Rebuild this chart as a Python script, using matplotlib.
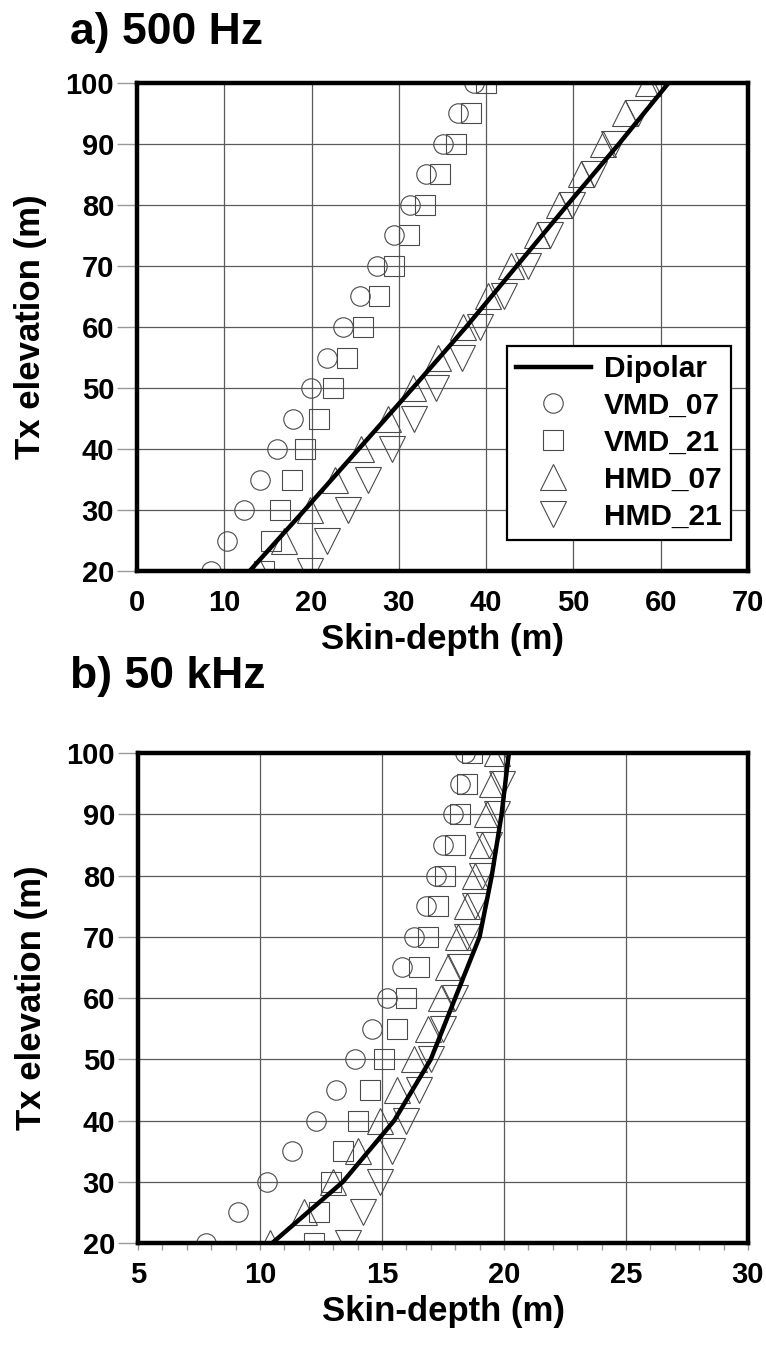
"""
Skin-depth versus transmitter elevation, two frequencies (500 Hz, 50 kHz).

Dipolar solution as a thick black line, the four finite-source cases as
open grey markers.
"""

import matplotlib
matplotlib.use("Agg")
import matplotlib.pyplot as plt
from matplotlib.ticker import MultipleLocator

# ---------------------------------------------------------------------------
# Data
# ---------------------------------------------------------------------------
elevation = [20, 25, 30, 35, 40, 45, 50, 55, 60, 65, 70, 75, 80, 85, 90, 95, 100]
dipolar_elevation = [20, 30, 40, 50, 60, 70, 80, 90, 100]

# a) 500 Hz
dipolar_500 = [12.9, 19.2, 25.4, 31.6, 37.7, 43.5, 49.3, 55.2, 60.9]
vmd07_500 = [8.5, 10.3, 12.2, 14.1, 16.0, 17.9, 19.9, 21.8, 23.6, 25.5, 27.5,
             29.4, 31.3, 33.1, 35.0, 36.8, 38.6]
vmd21_500 = [14.6, 15.3, 16.4, 17.8, 19.3, 20.9, 22.5, 24.1, 25.9, 27.7, 29.4,
             31.2, 33.0, 34.7, 36.5, 38.3, 40.0]
hmd07_500 = [14.0, 16.8, 19.8, 22.7, 25.7, 28.7, 31.6, 34.5, 37.4, 40.2, 42.9,
             45.8, 48.3, 50.9, 53.4, 55.9, 58.6]
hmd21_500 = [19.8, 21.8, 24.2, 26.5, 29.2, 31.7, 34.3, 37.2, 39.3, 42.0, 44.8,
             47.3, 49.8, 52.3, 54.6, 57.4, 59.7]

# b) 50 kHz
dipolar_50k = [10.5, 13.4, 15.5, 17.0, 18.0, 19.0, 19.5, 19.9, 20.2]
vmd07_50k = [7.8, 9.1, 10.3, 11.3, 12.3, 13.1, 13.9, 14.6, 15.2, 15.8, 16.3,
             16.8, 17.2, 17.5, 17.9, 18.2, 18.4]
vmd21_50k = [12.2, 12.4, 12.9, 13.4, 14.0, 14.5, 15.1, 15.6, 16.0, 16.5, 16.9,
             17.3, 17.6, 18.0, 18.2, 18.5, 18.7]
hmd07_50k = [10.4, 11.8, 13.0, 14.0, 14.9, 15.6, 16.3, 16.9, 17.4, 17.7, 18.1,
             18.5, 18.8, 19.1, 19.3, 19.5, 19.7]
hmd21_50k = [13.6, 14.2, 14.9, 15.4, 16.0, 16.5, 17.0, 17.5, 18.0, 18.2, 18.5,
             18.8, 19.1, 19.4, 19.7, 19.9, 20.0]

series_labels = ["Dipolar", "VMD_07", "VMD_21", "HMD_07", "HMD_21"]
panel_titles = ["a) 500 Hz", "b) 50 kHz"]

# ---------------------------------------------------------------------------
# Style
# ---------------------------------------------------------------------------
FONT = ["Liberation Sans", "DejaVu Sans"]
plt.rcParams["font.family"] = FONT
plt.rcParams["font.weight"] = "bold"

MARKER_EDGE = "#4a4a4a"
GRID_COLOR = "#5a5a5a"
TICK_COLOR = "#9a9a9a"
TICK_FS = 21
LABEL_FS = 25
TITLE_FS = 32

# marker shape, size (pt) per finite-source series
_MARKERS = [("o", 14.0), ("s", 14.0), ("^", 18.5), ("v", 18.5)]


def draw_panel(ax, dipolar, series, xlim, xstep, minor_x=False):
    """Thick dipolar line over open grey markers, boxed axes with grid."""
    for (marker, size), values, label in zip(_MARKERS, series, series_labels[1:]):
        ax.plot(values, elevation, linestyle="none", marker=marker,
                markersize=size, markerfacecolor="none",
                markeredgecolor=MARKER_EDGE, markeredgewidth=0.8,
                label=label, zorder=3)
    ax.plot(dipolar, dipolar_elevation, color="black", linewidth=3.2,
            label=series_labels[0], zorder=4)

    ax.set_xlim(*xlim)
    ax.set_ylim(20, 100)
    ax.xaxis.set_major_locator(MultipleLocator(xstep))
    ax.yaxis.set_major_locator(MultipleLocator(10))
    ax.grid(True, color=GRID_COLOR, linewidth=0.9, zorder=1)
    ax.set_axisbelow(True)

    for spine in ax.spines.values():
        spine.set_linewidth(3.2)
        spine.set_color("black")
        spine.set_zorder(6)

    ax.tick_params(axis="y", direction="out", length=14.5, width=1.0,
                   color=TICK_COLOR, pad=2, labelsize=TICK_FS)
    if minor_x:
        ax.xaxis.set_minor_locator(MultipleLocator(1))
        ax.tick_params(axis="x", which="both", direction="out", length=5,
                       width=1.0, color=TICK_COLOR, pad=8, labelsize=TICK_FS)
    else:
        ax.tick_params(axis="x", direction="out", length=0, pad=13,
                       labelsize=TICK_FS)
    for lbl in ax.get_xticklabels() + ax.get_yticklabels():
        lbl.set_fontweight("bold")

    ax.set_xlabel("Skin-depth (m)", fontsize=LABEL_FS, fontweight="bold",
                  labelpad=4)
    ax.set_ylabel("Tx elevation (m)", fontsize=LABEL_FS, fontweight="bold",
                  labelpad=13)


fig = plt.figure(figsize=(7.66, 13.56), dpi=100)
ax_a = fig.add_axes([0.1789, 0.5789, 0.7976, 0.3599])
ax_b = fig.add_axes([0.1802, 0.0833, 0.7963, 0.3614])

draw_panel(ax_a, dipolar_500, [vmd07_500, vmd21_500, hmd07_500, hmd21_500],
           (0, 70), 10)
draw_panel(ax_b, dipolar_50k, [vmd07_50k, vmd21_50k, hmd07_50k, hmd21_50k],
           (5, 30), 5, minor_x=True)

# --- Legend (panel a only), dipolar first -----------------------------------
handles, labels = ax_a.get_legend_handles_labels()
order = [labels.index(name) for name in series_labels]
leg = ax_a.legend([handles[i] for i in order], [labels[i] for i in order],
                  loc="upper left", bbox_to_anchor=(0.6056, 0.461),
                  prop={"family": FONT, "weight": "bold", "size": 21.5},
                  frameon=True, fancybox=False, framealpha=1,
                  edgecolor="black", handlelength=2.5, handletextpad=0.45,
                  labelspacing=0.3, borderpad=0.3, borderaxespad=0)
leg.get_frame().set_linewidth(1.6)
leg.set_zorder(7)

# --- Panel titles -------------------------------------------------------------
fig.text(70 / 766, 1 - 44 / 1356, panel_titles[0], fontsize=TITLE_FS,
         fontweight="bold", ha="left", va="baseline")
fig.text(70 / 766, 1 - 688 / 1356, panel_titles[1], fontsize=TITLE_FS,
         fontweight="bold", ha="left", va="baseline")

fig.savefig("out.png", dpi=100)
